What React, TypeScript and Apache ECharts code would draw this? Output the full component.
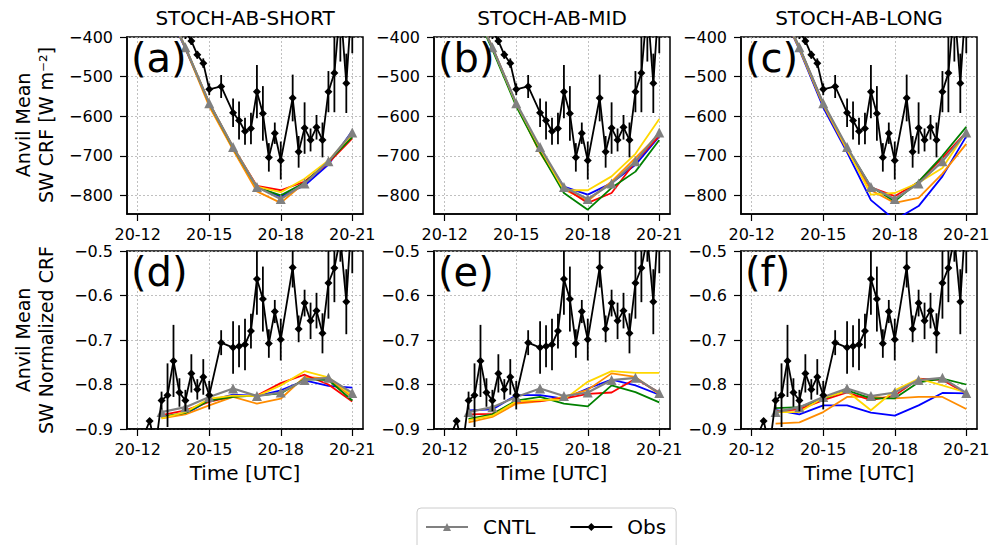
import React, { useEffect, useRef } from 'react';
import * as echarts from 'echarts';

// ---------------- DATA ----------------
const HOURS = [13, 14, 15, 16, 17, 18, 19, 20, 21];
const X_TICKS = [12, 15, 18, 21];
const Y_TICKS_CRF = [-800, -700, -600, -500, -400];
const Y_TICKS_NORM = [-0.9, -0.8, -0.7, -0.6, -0.5];
const TITLES = ['STOCH-AB-SHORT', 'STOCH-AB-MID', 'STOCH-AB-LONG'];
const PANEL_LABELS = ['(a)', '(b)', '(c)', '(d)', '(e)', '(f)'];
const MEMBER_COLORS = ['#0000ff', '#ff8c00', '#ff0000', '#008000', '#ffd700'];

const CNTL_CRF = [-300, -426, -567, -678, -779, -809, -770, -714, -641];
const CNTL_NORM = [-0.862, -0.851, -0.828, -0.809, -0.826, -0.818, -0.79, -0.785, -0.819];

const OBS_TIMES = [12.25, 12.5, 12.75, 13.0, 13.25, 13.5, 13.75, 14.0, 14.25, 14.5, 14.75, 15.0, 15.5, 16.0, 16.25, 16.5, 16.75, 17.0, 17.25, 17.5, 17.75, 18.0, 18.5, 18.75, 19.0, 19.25, 19.5, 19.75, 20.0, 20.25, 20.5, 20.75, 21.0];
const OBS_CRF = [-250, -260, -270, -290, -300, -320, -350, -385, -410, -445, -466, -532, -525, -591, -611, -638, -631, -538, -593, -704, -643, -712, -554, -690, -630, -660, -628, -660, -538, -491, -320, -517, -292];
const OBS_CRF_ERR = [20, 20, 20, 20, 20, 20, 20, 20, 10, 10, 12, 15, 29, 36, 48, 34, 40, 67, 69, 36, 27, 48, 59, 40, 65, 29, 31, 44, 52, 99, 142, 75, 149];
const OBS_NORM = [-0.915, -0.882, -0.94, -0.836, -0.824, -0.747, -0.818, -0.836, -0.775, -0.811, -0.783, -0.824, -0.706, -0.717, -0.714, -0.71, -0.68, -0.563, -0.608, -0.708, -0.636, -0.699, -0.537, -0.675, -0.617, -0.657, -0.634, -0.685, -0.572, -0.538, -0.47, -0.614, -0.4];
const OBS_NORM_ERR = [0.01, 0.006, 0.01, 0.02, 0.0715, 0.081, 0.032, 0.024, 0.043, 0.023, 0.04, 0.032, 0.028, 0.059, 0.047, 0.058, 0.039, 0.08, 0.073, 0.032, 0.026, 0.047, 0.045, 0.03, 0.03, 0.041, 0.04, 0.045, 0.08, 0.077, 0.054, 0.073, 0.15];

// members: blue, orange, red, green, gold
const SHORT_CRF = [
  [-300, -430, -567, -680, -778, -803, -775, -722, -637],
  [-300, -428, -575, -685, -790, -819, -768, -715, -650],
  [-300, -426, -567, -678, -776, -787, -765, -718, -656],
  [-300, -426, -568, -680, -780, -800, -768, -714, -653],
  [-300, -426, -567, -678, -778, -792, -758, -712, -645],
];
const MID_CRF = [
  [-300, -426, -569, -685, -778, -798, -769, -723, -651],
  [-300, -426, -570, -693, -785, -814, -765, -705, -645],
  [-300, -426, -569, -688, -780, -819, -794, -715, -650],
  [-300, -432, -575, -690, -794, -836, -781, -740, -660],
  [-300, -426, -569, -682, -787, -787, -752, -695, -607],
];
const LONG_CRF = [
  [-300, -432, -578, -691, -812, -862, -827, -752, -651],
  [-300, -430, -572, -686, -787, -819, -806, -745, -670],
  [-300, -426, -569, -680, -780, -802, -766, -705, -640],
  [-300, -426, -569, -680, -778, -815, -765, -700, -627],
  [-300, -428, -570, -683, -798, -794, -768, -731, -640],
];
const SHORT_NORM = [
  [-0.873, -0.866, -0.836, -0.823, -0.826, -0.813, -0.791, -0.803, -0.807],
  [-0.876, -0.867, -0.847, -0.828, -0.843, -0.832, -0.783, -0.787, -0.829],
  [-0.869, -0.858, -0.839, -0.826, -0.825, -0.797, -0.778, -0.8, -0.838],
  [-0.873, -0.864, -0.836, -0.828, -0.825, -0.82, -0.788, -0.79, -0.836],
  [-0.876, -0.862, -0.832, -0.825, -0.826, -0.802, -0.77, -0.784, -0.825],
];
const MID_NORM = [
  [-0.858, -0.856, -0.824, -0.824, -0.832, -0.809, -0.789, -0.802, -0.823],
  [-0.885, -0.873, -0.843, -0.838, -0.828, -0.812, -0.775, -0.783, -0.822],
  [-0.867, -0.866, -0.839, -0.837, -0.832, -0.821, -0.818, -0.787, -0.818],
  [-0.877, -0.867, -0.836, -0.828, -0.843, -0.849, -0.802, -0.817, -0.84],
  [-0.88, -0.87, -0.838, -0.835, -0.834, -0.794, -0.77, -0.774, -0.774],
];
const LONG_NORM = [
  [-0.857, -0.867, -0.847, -0.847, -0.863, -0.87, -0.847, -0.819, -0.82],
  [-0.888, -0.885, -0.862, -0.828, -0.828, -0.831, -0.828, -0.828, -0.855],
  [-0.86, -0.856, -0.835, -0.818, -0.835, -0.825, -0.787, -0.79, -0.82],
  [-0.853, -0.851, -0.832, -0.813, -0.831, -0.831, -0.795, -0.787, -0.8],
  [-0.862, -0.862, -0.83, -0.815, -0.858, -0.813, -0.787, -0.802, -0.818],
];

// ---------------- LAYOUT ----------------
const GRID_LEFTS = [127, 434, 741];
const GRID_W = 236;
const GRID_TOPS = [37, 251];
const GRID_H = [177, 178];
const FONT = 'DejaVu Sans';

const fmtNeg = (v: number, dec: number) => {
  const s = Math.abs(v).toFixed(dec);
  return (v < 0 ? '\u2212' : '') + s;
};

function buildOption() {
  const grids: any[] = [];
  const xAxes: any[] = [];
  const yAxes: any[] = [];
  const series: any[] = [];
  const graphics: any[] = [];
  const members = [SHORT_CRF, MID_CRF, LONG_CRF, SHORT_NORM, MID_NORM, LONG_NORM];

  for (let i = 0; i < 6; i++) {
    const row = Math.floor(i / 3);
    const col = i % 3;
    const isCrf = row === 0;
    grids.push({
      left: GRID_LEFTS[col], top: GRID_TOPS[row], width: GRID_W, height: GRID_H[row],
      show: true, borderColor: '#000', borderWidth: 1.5, backgroundColor: '#fff',
    });
    xAxes.push({
      type: 'value', gridIndex: i, min: 11.55, max: 21.45,
      axisLine: { show: true, lineStyle: { color: '#000', width: 1.5 } },
      axisTick: { show: true, inside: false, length: 7, lineStyle: { color: '#000', width: 1.2 }, customValues: X_TICKS },
      axisLabel: { customValues: X_TICKS, formatter: (v: number) => '20-' + Math.round(v), fontSize: 16, fontFamily: FONT, color: '#000', margin: 12 },
      splitLine: { show: true, lineStyle: { color: '#b0b0b0', width: 0.8, type: [2, 2] } },
    });
    yAxes.push({
      type: 'value', gridIndex: i,
      min: isCrf ? -847 : -0.9, max: isCrf ? -400 : -0.5,
      axisLine: { show: true, lineStyle: { color: '#000', width: 1.5 } },
      axisTick: { show: true, inside: false, length: 7, lineStyle: { color: '#000', width: 1.2 }, customValues: isCrf ? Y_TICKS_CRF : Y_TICKS_NORM },
      axisLabel: { customValues: isCrf ? Y_TICKS_CRF : Y_TICKS_NORM, formatter: (v: number) => fmtNeg(v, isCrf ? 0 : 1), fontSize: 16, fontFamily: FONT, color: '#000', margin: 14 },
      splitLine: { show: true, lineStyle: { color: '#b0b0b0', width: 0.8, type: [2, 2] } },
    });

    members[i].forEach((vals, m) => {
      series.push({
        type: 'line', name: 'member' + m, xAxisIndex: i, yAxisIndex: i,
        data: HOURS.map((h, k) => [h, vals[k]]),
        showSymbol: false, symbol: 'none', clip: true,
        lineStyle: { color: MEMBER_COLORS[m], width: 1.8 }, itemStyle: { color: MEMBER_COLORS[m] },
        z: 2,
      });
    });
    const cntl = isCrf ? CNTL_CRF : CNTL_NORM;
    series.push({
      type: 'line', name: 'CNTL', xAxisIndex: i, yAxisIndex: i,
      data: HOURS.map((h, k) => [h, cntl[k]]),
      symbol: 'triangle', symbolSize: 10, showSymbol: true, clip: true,
      lineStyle: { color: '#808080', width: 2.2 }, itemStyle: { color: '#808080' },
      z: 3,
    });
    const obs = isCrf ? OBS_CRF : OBS_NORM;
    const err = isCrf ? OBS_CRF_ERR : OBS_NORM_ERR;
    series.push({
      type: 'custom', name: 'ObsErr', xAxisIndex: i, yAxisIndex: i, clip: true,
      data: OBS_TIMES.map((t, k) => [t, obs[k] - err[k], obs[k] + err[k]]),
      encode: { x: 0, y: [1, 2] },
      renderItem: (params: any, api: any) => {
        const a = api.coord([api.value(0), api.value(1)]);
        const b = api.coord([api.value(0), api.value(2)]);
        return { type: 'line', shape: { x1: a[0], y1: a[1], x2: b[0], y2: b[1] }, style: { stroke: '#000', lineWidth: 1.8 } };
      },
      z: 4,
    });
    series.push({
      type: 'line', name: 'Obs', xAxisIndex: i, yAxisIndex: i,
      data: OBS_TIMES.map((t, k) => [t, obs[k]]),
      symbol: 'diamond', symbolSize: 8, showSymbol: true, clip: true,
      lineStyle: { color: '#000', width: 1.8 }, itemStyle: { color: '#000' },
      z: 5,
    });

    graphics.push({
      type: 'text', left: GRID_LEFTS[col] + 4, top: GRID_TOPS[row] + 1, z: 10,
      style: { text: PANEL_LABELS[i], fontSize: 40, fontFamily: FONT, fill: '#000' },
    });
  }

  for (let c = 0; c < 3; c++) {
    graphics.push({
      type: 'text', x: GRID_LEFTS[c] + GRID_W / 2, y: 18,
      style: { text: TITLES[c], fontSize: 20, fontFamily: FONT, fill: '#000', align: 'center', verticalAlign: 'middle' },
    });
    graphics.push({
      type: 'text', x: GRID_LEFTS[c] + GRID_W / 2, y: 473,
      style: { text: 'Time [UTC]', fontSize: 20, fontFamily: FONT, fill: '#000', align: 'center', verticalAlign: 'middle' },
    });
  }
  graphics.push({
    type: 'text', x: 34, y: 125, rotation: Math.PI / 2,
    style: { text: 'Anvil Mean\nSW CRF [W m\u207b\u00b2]', fontSize: 19, lineHeight: 23, fontFamily: FONT, fill: '#000', align: 'center', verticalAlign: 'middle' },
  });
  graphics.push({
    type: 'text', x: 34, y: 340, rotation: Math.PI / 2,
    style: { text: 'Anvil Mean\nSW Normalized CRF', fontSize: 19, lineHeight: 23, fontFamily: FONT, fill: '#000', align: 'center', verticalAlign: 'middle' },
  });

  return {
    animation: false,
    backgroundColor: '#fff',
    textStyle: { fontFamily: FONT },
    grid: grids,
    xAxis: xAxes,
    yAxis: yAxes,
    legend: {
      data: ['CNTL', 'Obs'], left: 417, top: 508,
      itemWidth: 42, itemHeight: 10, itemGap: 34,
      padding: [9, 10, 14, 8],
      borderColor: '#cccccc', borderWidth: 1, borderRadius: 4, backgroundColor: '#fff',
      textStyle: { fontSize: 20, fontFamily: FONT, color: '#000', padding: [0, 0, 0, 10] },
      selectedMode: false,
    },
    series,
    graphic: graphics,
  };
}

export default function App() {
  const ref = useRef<HTMLDivElement>(null);
  useEffect(() => {
    if (!ref.current) return;
    const chart = echarts.init(ref.current, undefined, { renderer: 'svg' });
    chart.setOption(buildOption() as any);
    return () => chart.dispose();
  }, []);
  return <div ref={ref} style={{ position: 'fixed', left: 0, top: 0, width: 1001, height: 545 }} />;
}
